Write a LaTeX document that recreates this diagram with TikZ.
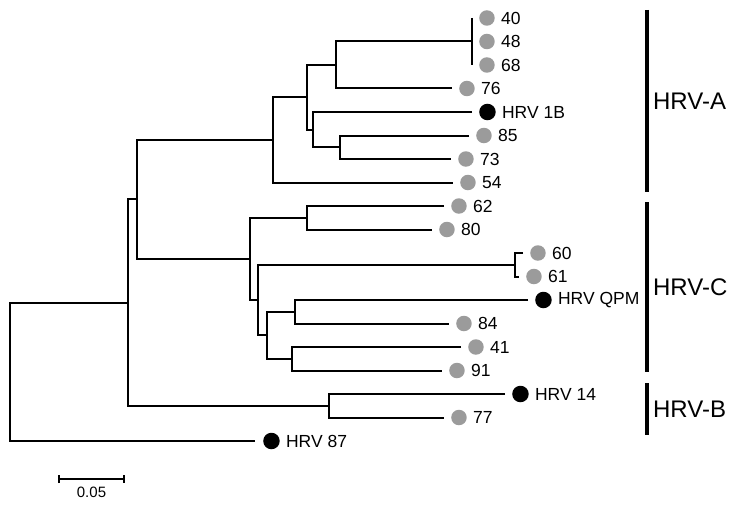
\documentclass[tikz,border=0pt]{standalone}
\usepackage{fontspec}
\setmainfont{Liberation Sans}
\usetikzlibrary{positioning,arrows.meta}
\definecolor{dotgray}{RGB}{155,155,155}

\begin{document}
\begin{tikzpicture}[x=1pt,y=-1pt,
    branch/.style={line width=2pt},
    gdot/.style={circle,fill=dotgray,inner sep=0pt,minimum size=15.5pt},
    bdot/.style={circle,fill=black,inner sep=0pt,minimum size=16.5pt},
    tiplbl/.style={inner sep=0pt,font=\fontsize{17.5}{20}\selectfont},
    cladebar/.style={line width=4.2pt},
    cladelbl/.style={inner sep=0pt,font=\fontsize{24}{28}\selectfont}]
  \useasboundingbox (0,0) rectangle (738,508);

  % Tips, dots and labels
  \coordinate (t40) at (472,18);    \node[gdot, right=7pt of t40] (d40) {};   \node[tiplbl, right=6pt of d40] {40};
  \coordinate (t48) at (472,41.5);  \node[gdot, right=7pt of t48] (d48) {};   \node[tiplbl, right=6pt of d48] {48};
  \coordinate (t68) at (472,65);    \node[gdot, right=7pt of t68] (d68) {};   \node[tiplbl, right=6pt of d68] {68};
  \coordinate (t76) at (452,88.5);  \node[gdot, right=7pt of t76] (d76) {};   \node[tiplbl, right=6pt of d76] {76};
  \coordinate (t1B) at (472,112);   \node[bdot, right=7pt of t1B] (d1B) {};   \node[tiplbl, right=6pt of d1B] {HRV 1B};
  \coordinate (t85) at (469,135.5); \node[gdot, right=7pt of t85] (d85) {};   \node[tiplbl, right=6pt of d85] {85};
  \coordinate (t73) at (451,159);   \node[gdot, right=7pt of t73] (d73) {};   \node[tiplbl, right=6pt of d73] {73};
  \coordinate (t54) at (453,182.5); \node[gdot, right=7pt of t54] (d54) {};   \node[tiplbl, right=6pt of d54] {54};
  \coordinate (t62) at (444,206);   \node[gdot, right=7pt of t62] (d62) {};   \node[tiplbl, right=6pt of d62] {62};
  \coordinate (t80) at (432,229.5); \node[gdot, right=7pt of t80] (d80) {};   \node[tiplbl, right=6pt of d80] {80};
  \coordinate (t60) at (523,253);   \node[gdot, right=7pt of t60] (d60) {};   \node[tiplbl, right=6pt of d60] {60};
  \coordinate (t61) at (519,276.5); \node[gdot, right=7pt of t61] (d61) {};   \node[tiplbl, right=6pt of d61] {61};
  \coordinate (tQPM) at (528,300);  \node[bdot, right=7pt of tQPM] (dQPM) {}; \node[tiplbl, right=6pt of dQPM] {HRV QPM};
  \coordinate (t84) at (449,323.5); \node[gdot, right=7pt of t84] (d84) {};   \node[tiplbl, right=6pt of d84] {84};
  \coordinate (t41) at (461,347);   \node[gdot, right=7pt of t41] (d41) {};   \node[tiplbl, right=6pt of d41] {41};
  \coordinate (t91) at (442,370.5); \node[gdot, right=7pt of t91] (d91) {};   \node[tiplbl, right=6pt of d91] {91};
  \coordinate (t14) at (505,394);   \node[bdot, right=7pt of t14] (d14) {};   \node[tiplbl, right=6pt of d14] {HRV 14};
  \coordinate (t77) at (444,417.5); \node[gdot, right=7pt of t77] (d77) {};   \node[tiplbl, right=6pt of d77] {77};
  \coordinate (t87) at (255,441);   \node[bdot, right=8pt of t87] (d87) {};   \node[tiplbl, right=6pt of d87] {HRV 87};

  % Internal nodes
  \coordinate (nA5) at (340,147.3);
  \coordinate (nA3) at (313,129.6);
  \coordinate (nA2) at (336,65);
  \coordinate (nA1) at (307,97.3);
  \coordinate (nA) at (273,139.9);
  \coordinate (nC1) at (307,217.8);
  \coordinate (nC3) at (515,264.8);
  \coordinate (nC5) at (295,311.8);
  \coordinate (nC6) at (292,358.8);
  \coordinate (nC4) at (267,335.3);
  \coordinate (nC2) at (258,300);
  \coordinate (nC) at (250,258.9);
  \coordinate (nAC) at (137,199.4);
  \coordinate (nB) at (329,405.8);
  \coordinate (nABC) at (128,302.6);
  \coordinate (root) at (10,371.8);

  % Branches
  \draw[branch] (t40) -- (t68);
  \draw[branch] (t48) -| (nA2) |- (t76);
  \draw[branch] (t85) -| (nA5) |- (t73);
  \draw[branch] (t1B) -| (nA3) |- (nA5);
  \draw[branch] (nA2) -| (nA1) |- (nA3);
  \draw[branch] (nA1) -| (nA) |- (t54);
  \draw[branch] (t62) -| (nC1) |- (t80);
  \draw[branch] (t60) -| (nC3) |- (t61);
  \draw[branch] (tQPM) -| (nC5) |- (t84);
  \draw[branch] (t41) -| (nC6) |- (t91);
  \draw[branch] (nC5) -| (nC4) |- (nC6);
  \draw[branch] (nC3) -| (nC2) |- (nC4);
  \draw[branch] (nC1) -| (nC) |- (nC2);
  \draw[branch] (nA) -| (nAC) |- (nC);
  \draw[branch] (t14) -| (nB) |- (t77);
  \draw[branch] (nAC) -| (nABC) |- (nB);
  \draw[branch] (nABC) -| (root) |- (t87);

  % Clades
  \draw[cladebar] (647,10) -- node[cladelbl, right=4pt] {HRV-A} (647,192);
  \draw[cladebar] (647,202) -- node[cladelbl, right=4pt] {HRV-C} (647,372);
  \draw[cladebar] (647,383) -- node[cladelbl, right=4pt] {HRV-B} (647,435);

  % Scale bar
  \coordinate (sbl) at (58,479);
  \coordinate (sbr) at (125,479);
  \draw[branch, {Bar[width=8pt]}-{Bar[width=8pt]}] (sbl) -- node[below=7.5pt, inner sep=0pt, font=\fontsize{15}{18}\selectfont] {0.05} (sbr);
\end{tikzpicture}
\end{document}
